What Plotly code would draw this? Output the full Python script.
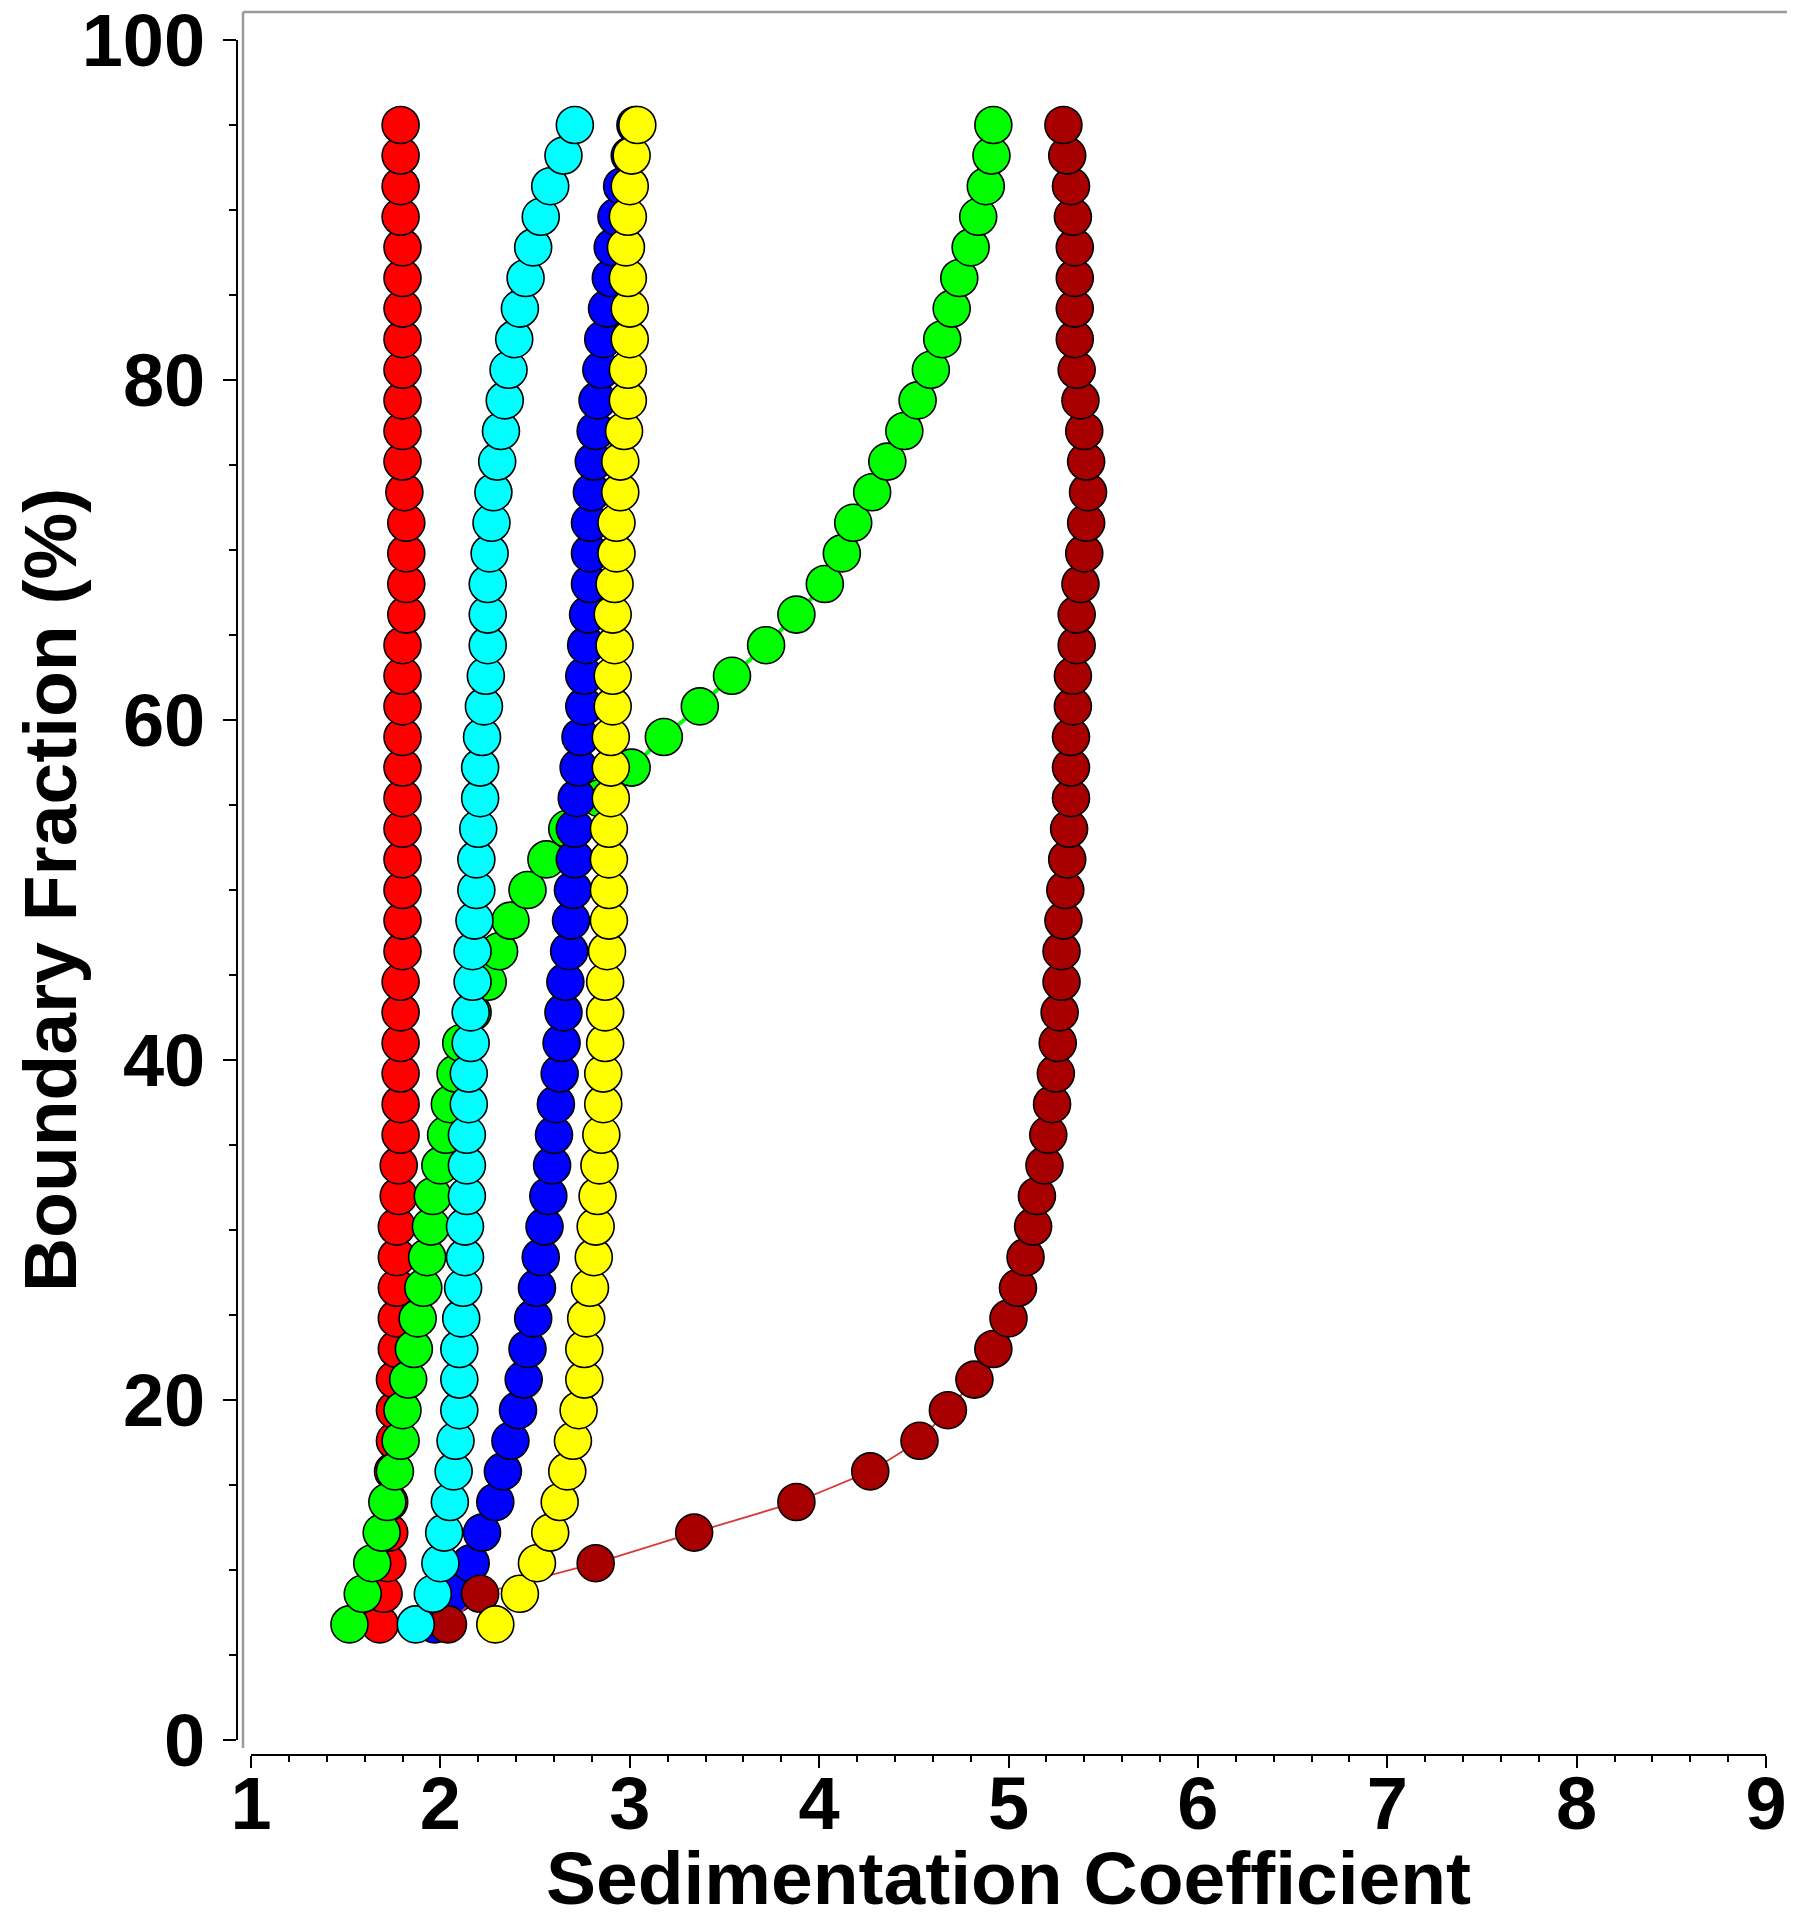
import plotly.graph_objects as go

# Boundary fraction levels (%) shared by all series
boundary_fraction = [6.8, 8.6, 10.4, 12.2, 14.0, 15.8, 17.6, 19.4, 21.2, 23.0,
                     24.8, 26.6, 28.4, 30.2, 32.0, 33.8, 35.6, 37.4, 39.2, 41.0,
                     42.8, 44.6, 46.4, 48.2, 50.0, 51.8, 53.6, 55.4, 57.2, 59.0,
                     60.8, 62.6, 64.4, 66.2, 68.0, 69.8, 71.6, 73.4, 75.2, 77.0,
                     78.8, 80.6, 82.4, 84.2, 86.0, 87.8, 89.6, 91.4, 93.2, 95.0]

s_red = [1.68, 1.70, 1.72, 1.73, 1.73, 1.75, 1.76, 1.76, 1.76, 1.77,
         1.77, 1.77, 1.77, 1.77, 1.78, 1.78, 1.79, 1.79, 1.79, 1.79,
         1.79, 1.79, 1.80, 1.80, 1.80, 1.80, 1.80, 1.80, 1.80, 1.80,
         1.80, 1.80, 1.80, 1.82, 1.82, 1.82, 1.82, 1.81, 1.80, 1.80,
         1.80, 1.80, 1.80, 1.80, 1.80, 1.80, 1.79, 1.79, 1.79, 1.79]

s_green = [1.52, 1.59, 1.64, 1.69, 1.72, 1.76, 1.79, 1.80, 1.83, 1.86,
           1.88, 1.91, 1.93, 1.95, 1.96, 2.00, 2.03, 2.05, 2.08, 2.11,
           2.17, 2.25, 2.31, 2.37, 2.46, 2.56, 2.67, 2.84, 3.01, 3.18,
           3.37, 3.54, 3.72, 3.88, 4.03, 4.12, 4.18, 4.28, 4.36, 4.45,
           4.52, 4.59, 4.65, 4.70, 4.74, 4.80, 4.84, 4.88, 4.91, 4.92]

s_blue = [1.97, 2.08, 2.16, 2.22, 2.29, 2.33, 2.37, 2.41, 2.44, 2.46,
          2.49, 2.51, 2.53, 2.55, 2.57, 2.59, 2.60, 2.61, 2.63, 2.64,
          2.65, 2.66, 2.68, 2.69, 2.70, 2.71, 2.71, 2.72, 2.73, 2.74,
          2.76, 2.76, 2.77, 2.78, 2.79, 2.79, 2.79, 2.80, 2.81, 2.82,
          2.83, 2.85, 2.86, 2.88, 2.90, 2.91, 2.93, 2.96, 3.00, 3.03]

s_darkred = [2.04, 2.21, 2.82, 3.34, 3.88, 4.27, 4.53, 4.68, 4.82, 4.92,
             5.00, 5.05, 5.09, 5.13, 5.15, 5.19, 5.21, 5.23, 5.25, 5.26,
             5.27, 5.28, 5.28, 5.29, 5.30, 5.31, 5.32, 5.33, 5.33, 5.33,
             5.34, 5.34, 5.36, 5.36, 5.38, 5.40, 5.41, 5.42, 5.41, 5.40,
             5.38, 5.36, 5.35, 5.35, 5.35, 5.35, 5.34, 5.33, 5.31, 5.29]

s_cyan = [1.87, 1.96, 2.00, 2.02, 2.05, 2.07, 2.08, 2.10, 2.10, 2.10,
          2.11, 2.12, 2.13, 2.13, 2.14, 2.14, 2.14, 2.15, 2.15, 2.16,
          2.16, 2.17, 2.17, 2.18, 2.19, 2.19, 2.20, 2.21, 2.21, 2.22,
          2.23, 2.24, 2.25, 2.25, 2.25, 2.26, 2.27, 2.28, 2.30, 2.32,
          2.34, 2.36, 2.39, 2.42, 2.45, 2.49, 2.53, 2.58, 2.65, 2.71]

s_yellow = [2.29, 2.42, 2.51, 2.58, 2.63, 2.67, 2.70, 2.73, 2.76, 2.76,
            2.77, 2.79, 2.81, 2.82, 2.83, 2.84, 2.85, 2.86, 2.86, 2.87,
            2.87, 2.87, 2.88, 2.89, 2.89, 2.89, 2.89, 2.90, 2.90, 2.90,
            2.91, 2.91, 2.92, 2.91, 2.92, 2.93, 2.93, 2.95, 2.95, 2.97,
            2.99, 2.99, 3.00, 3.00, 2.99, 2.98, 2.99, 3.00, 3.01, 3.04]

x_ticks = [1, 2, 3, 4, 5, 6, 7, 8, 9]
y_ticks = [0, 20, 40, 60, 80, 100]

series = [
    ("red", s_red, "#FF0000", "#FF0000", 1.5),
    ("green", s_green, "#00FF00", "#00FF00", 4),
    ("blue", s_blue, "#0000FF", "#0000FF", 1.5),
    ("darkred", s_darkred, "#A80000", "#D83A3A", 1.8),
    ("cyan", s_cyan, "#00FFFF", "#E06060", 1.5),
    ("yellow", s_yellow, "#FFFF00", "#FFFF00", 1.5),
]

fig = go.Figure()
for name, xs, fill, lcol, lw in series:
    fig.add_trace(go.Scatter(
        x=xs, y=boundary_fraction, mode="lines+markers", name=name,
        line=dict(color=lcol, width=lw),
        marker=dict(size=37, color=fill, line=dict(color="#000000", width=1.6)),
        cliponaxis=False,
    ))

FONT = "Liberation Sans, Arial, sans-serif"
OFF = 8  # default page body margin
W, H = 1800 - OFF, 1920 - OFF
L, R, T, B = 237 - OFF, 13, 12 - OFF, 165
pw, ph = W - L - R, H - T - B

fig.update_layout(
    width=W, height=H,
    margin=dict(l=L, r=R, t=T, b=B, pad=0, autoexpand=False),
    paper_bgcolor="white", plot_bgcolor="white",
    showlegend=False,
    font=dict(family=FONT, color="black"),
    xaxis=dict(
        domain=[(251 - 237) / pw, (1766 - 237) / pw],
        range=[1, 9], anchor="free", position=0, automargin=False,
        showline=True, linecolor="black", linewidth=2,
        ticks="outside", ticklen=12, tickwidth=2, tickcolor="black",
        tickmode="array", tickvals=x_ticks, ticktext=[str(v) for v in x_ticks],
        minor=dict(dtick=0.2, tick0=1, ticks="outside", ticklen=6, tickwidth=1.5, tickcolor="black"),
        showgrid=False, zeroline=False,
        ticklabelstandoff=-28, ticklabeloverflow="allow",
        tickfont=dict(family=FONT, size=74, weight="bold", color="black"),
        title=dict(text="Sedimentation Coefficient", standoff=8,
                   font=dict(family=FONT, size=75, weight="bold", color="black")),
    ),
    yaxis=dict(
        domain=[(1755 - 1740) / ph, (1755 - 40) / ph],
        range=[0, 100], anchor="free", position=0, automargin=False,
        showline=True, linecolor="black", linewidth=2,
        ticks="outside", ticklen=13, tickwidth=2, tickcolor="black",
        tickmode="array", tickvals=y_ticks, ticktext=[str(v) for v in y_ticks],
        minor=dict(dtick=5, tick0=0, ticks="outside", ticklen=7, tickwidth=1.5, tickcolor="black"),
        showgrid=False, zeroline=False,
        ticklabelstandoff=3, ticklabeloverflow="allow",
        tickfont=dict(family=FONT, size=74, weight="bold", color="black"),
        title=dict(text="Boundary Fraction (%)", standoff=29,
                   font=dict(family=FONT, size=75, weight="bold", color="black")),
    ),
    shapes=[
        dict(type="line", xref="paper", yref="paper",
             x0=6 / pw, x1=6 / pw, y0=7 / ph, y1=1,
             line=dict(color="#9A9A9A", width=2.5)),
        dict(type="line", xref="paper", yref="paper",
             x0=6 / pw, x1=1, y0=1, y1=1,
             line=dict(color="#9A9A9A", width=2.5)),
    ],
)

fig.write_html("out.html")
